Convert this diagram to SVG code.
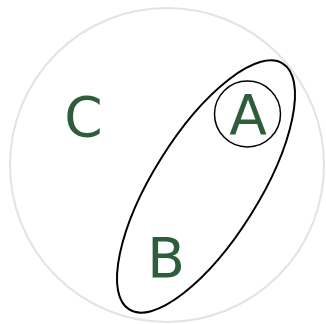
<svg xmlns="http://www.w3.org/2000/svg" width="326" height="324" viewBox="0 0 326 324">
<style>
.lbl{font-family:"DejaVu Sans",sans-serif;font-size:55px;fill:#2e5d3b;text-anchor:middle}
.set{fill:none;stroke:#000}
</style>
<rect width="326" height="324" fill="#fff"/>
<g id="C">
<circle cx="167" cy="165" r="157" fill="none" stroke="#e3e3e3" stroke-width="2"/>
<text class="lbl" x="83.5" y="136">C</text>
</g>
<g id="B">
<ellipse class="set" cx="206" cy="186.5" rx="145" ry="53" transform="rotate(-58 206 186.5)" stroke-width="2"/>
<text class="lbl" x="166" y="277">B</text>
</g>
<g id="A">
<circle class="set" cx="247.5" cy="114" r="33" stroke-width="1.5"/>
<text class="lbl" x="248" y="134">A</text>
</g>
<g id="connectors"></g>
</svg>
